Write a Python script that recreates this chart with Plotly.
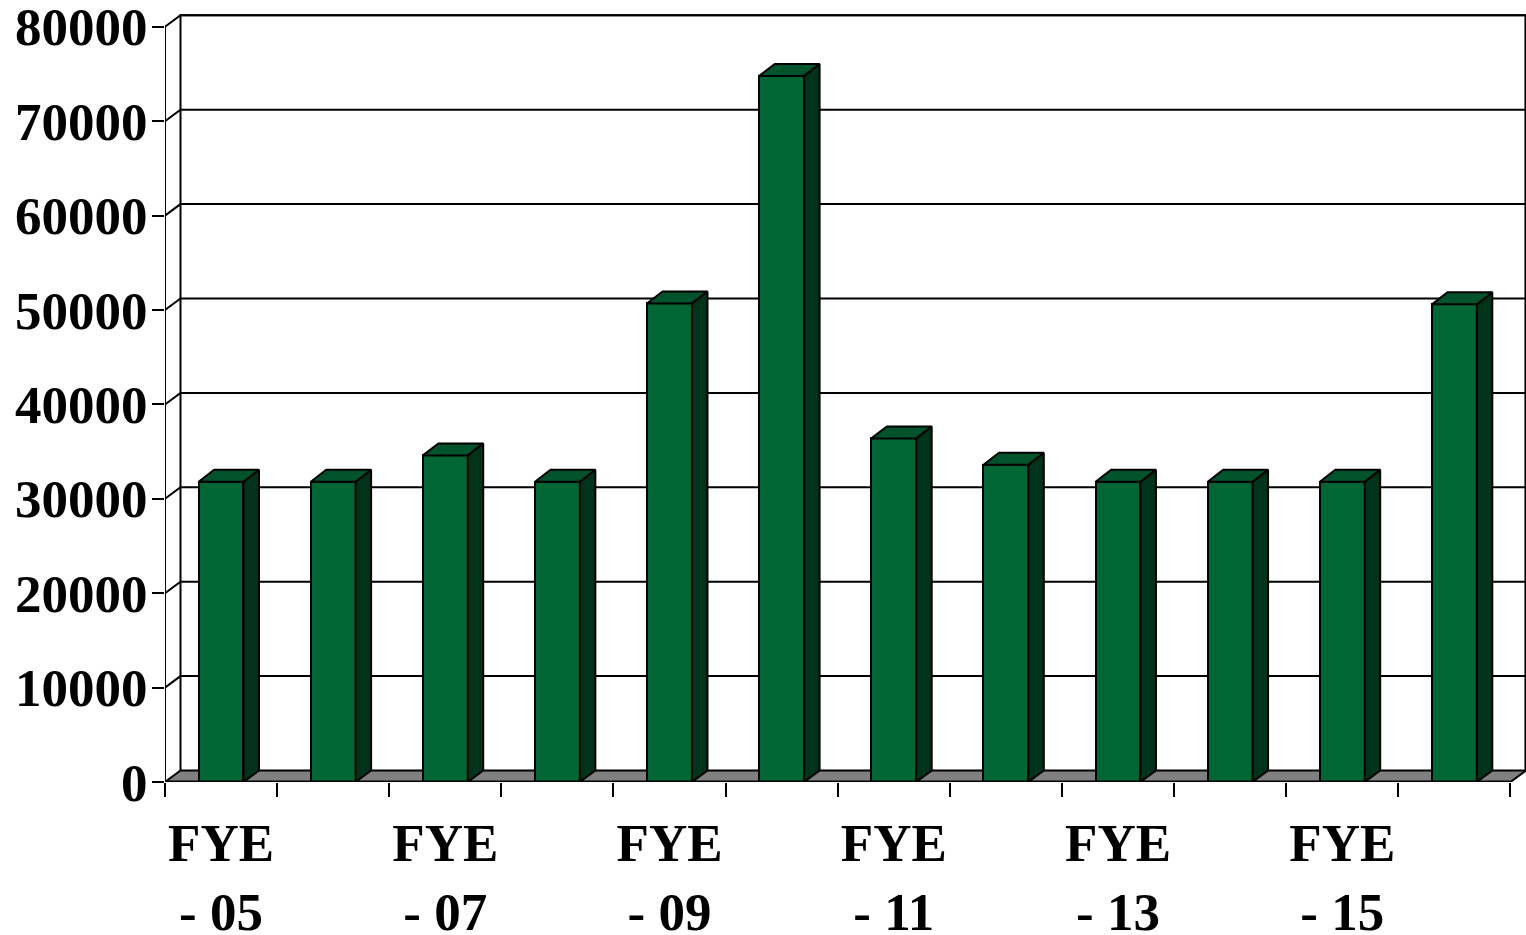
import plotly.graph_objects as go

categories = ["FYE - 05", "FYE - 06", "FYE - 07", "FYE - 08", "FYE - 09", "FYE - 10",
              "FYE - 11", "FYE - 12", "FYE - 13", "FYE - 14", "FYE - 15", "FYE - 16"]
values = [31800, 31800, 34600, 31800, 50700, 74800, 36400, 33600, 31800, 31800, 31800, 50600]
y_ticks = [0, 10000, 20000, 30000, 40000, 50000, 60000, 70000, 80000]
y_tick_labels = [str(v) for v in y_ticks]
x_label_idx = [0, 2, 4, 6, 8, 10]
x_tick_labels = ["FYE<br>- 05", "FYE<br>- 07", "FYE<br>- 09", "FYE<br>- 11", "FYE<br>- 13", "FYE<br>- 15"]

FRONT = "#006633"
TOP = "#00532A"
SIDE = "#00331A"
FLOOR = "#808080"
TICKFONT = dict(family="Liberation Serif, Times New Roman, serif", size=53, color="black", weight="bold")

# pixel-to-data conversion helpers for the pseudo-3D depth
PX_X = 112.1        # px per category
PX_Y = 94.4 / 10000 # px per unit
DX = 15.5 / PX_X
DY_WALL = 11.5 / PX_Y
DY_BAR = 12.0 / PX_Y
BAR_W = 0.40
n = len(categories)
x_left = -0.5
x_right = n - 0.5
x_end = x_right + 15 / PX_X
y_top = 772 / PX_Y

fig = go.Figure()
shapes = []

# floor
shapes.append(dict(type="path", xref="x", yref="y", layer="below",
                   path=f"M {x_left},0 L {x_right},0 L {x_right+DX},{DY_WALL} L {x_left+DX},{DY_WALL} Z",
                   fillcolor=FLOOR, line=dict(color="black", width=2)))
# gridlines on side wall + back wall
for v in y_ticks[1:]:
    shapes.append(dict(type="path", xref="x", yref="y", layer="below",
                       path=f"M {x_left},{v} L {x_left+DX},{v+DY_WALL} L {x_end},{v+DY_WALL}",
                       line=dict(color="black", width=2)))
# back wall borders
shapes.append(dict(type="path", xref="x", yref="y", layer="below",
                   path=f"M {x_left+DX},{DY_WALL} L {x_left+DX},{y_ticks[-1]+DY_WALL} L {x_end},{y_ticks[-1]+DY_WALL} L {x_end},{DY_WALL}",
                   line=dict(color="black", width=2)))
# front y axis line
shapes.append(dict(type="line", xref="x", yref="y", layer="below",
                   x0=x_left, x1=x_left, y0=0, y1=y_ticks[-1], line=dict(color="black", width=2)))
# front x axis line
shapes.append(dict(type="line", xref="x", yref="y", layer="above",
                   x0=x_left, x1=x_right, y0=0, y1=0, line=dict(color="black", width=3)))

xs = list(range(n))
fig.add_trace(go.Bar(x=xs, y=values, width=BAR_W, marker=dict(color=FRONT, line=dict(color="black", width=2)),
                     hoverinfo="skip"))

side_x, side_y, top_x, top_y = [], [], [], []
for i, v in enumerate(values):
    x0 = i - BAR_W / 2
    x1 = i + BAR_W / 2
    side_x += [x1, x1 + DX, x1 + DX, x1, x1, None]
    side_y += [0, DY_WALL, v + DY_BAR, v, 0, None]
    top_x += [x0, x0 + DX, x1 + DX, x1, x0, None]
    top_y += [v, v + DY_BAR, v + DY_BAR, v, v, None]

fig.add_trace(go.Scatter(x=side_x, y=side_y, mode="lines", fill="toself", fillcolor=SIDE,
                         line=dict(color="black", width=2), hoverinfo="skip"))
fig.add_trace(go.Scatter(x=top_x, y=top_y, mode="lines", fill="toself", fillcolor=TOP,
                         line=dict(color="black", width=2), hoverinfo="skip"))

fig.update_layout(
    width=1526, height=935,
    margin=dict(l=165, r=0, t=10, b=153),
    paper_bgcolor="white", plot_bgcolor="white",
    showlegend=False,
    shapes=shapes,
    bargap=0,
    xaxis=dict(range=[x_left, x_end + 0.005], showgrid=False, zeroline=False, showline=False,
               tickmode="array", tickvals=x_label_idx, ticktext=x_tick_labels, ticks="",
               ticklabelstandoff=25, ticklabeloverflow="allow", automargin=False,
               minor=dict(tick0=-0.5, dtick=1, ticks="outside", ticklen=14, tickwidth=2, tickcolor="black",
                          showgrid=False),
               tickfont=TICKFONT, fixedrange=True),
    yaxis=dict(range=[0, y_top], showgrid=False, zeroline=False, showline=False,
               tickmode="array", tickvals=y_ticks, ticktext=y_tick_labels,
               ticks="outside", ticklen=12, tickwidth=2, tickcolor="black",
               ticklabelstandoff=-6, ticklabeloverflow="allow", automargin=False,
               tickfont=TICKFONT, fixedrange=True),
)

fig.write_html("out.html")
